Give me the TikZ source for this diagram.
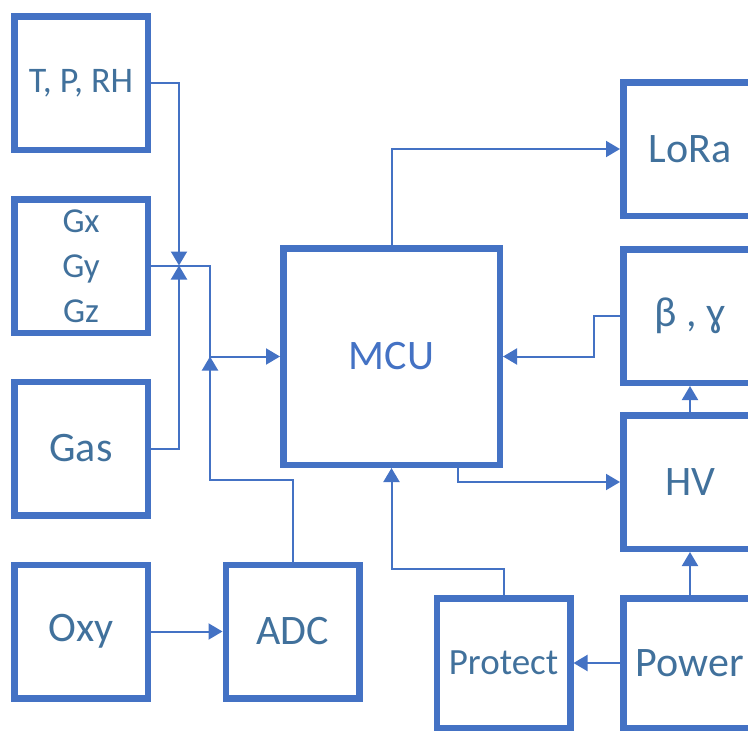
\documentclass[tikz,border=0pt]{standalone}
\usepackage{fontspec}
\setmainfont{Carlito}
\usetikzlibrary{arrows.meta}
\definecolor{boxblue}{HTML}{4472C4}
\definecolor{txtblue}{HTML}{41719C}
\tikzset{
  blk/.style={draw=boxblue, line width=6.5pt, minimum width=133.5pt, minimum height=133.5pt,
    inner sep=0pt, text=txtblue, font=\fontsize{42}{50}\selectfont, align=center},
  smalltxt/.style={font=\fontsize{35}{45}\selectfont},
  conn/.style={draw=boxblue, line width=2pt},
  arr/.style={conn, -{Triangle[length=14pt,width=16pt]}}
}
\begin{document}
\begin{tikzpicture}[x=1pt,y=-1pt]
\useasboundingbox (0,0) rectangle (748,731);
\clip (0,0) rectangle (748,731);
% blocks
\node[blk, font=\fontsize{36}{45}\selectfont] (tprh) at (81,83) {T, P, RH};
\node[blk, smalltxt] (gxyz) at (81,266) {Gx\\Gy\\Gz};
\node[blk] (gas) at (81,448.5) {Gas};
\node[blk] (oxy) at (81,631.5) {Oxy};
\node[blk] (adc) at (292.5,631.5) {ADC};
\node[blk, minimum width=216.5pt, minimum height=216.5pt, text=boxblue] (mcu) at (391.5,356.5) {MCU};
\node[blk] (lora) at (690,149) {LoRa};
\node[blk] (beta) at (690,316) {β , ɣ};
\node[blk] (hv) at (690,482) {HV};
\node[blk, minimum height=129.5pt] (power) at (690,663) {Power};
\node[blk, font=\fontsize{37}{45}\selectfont, minimum height=129.5pt] (protect) at (503.5,663) {Protect};
% junction coordinates
\coordinate (j1) at (179,265.5);
\coordinate (j2) at (210,356.5);
\coordinate (k1) at (210,480);
\coordinate (b1) at (594,356.5);
\coordinate (p1) at (391.5,569);
% connectors
\draw[arr] (tprh.east) -| (j1);
\draw[arr] (gas.east) -| (j1);
\draw[arr] (gxyz.east) -| (j2) -- (mcu.west);
\draw[arr] (adc.north) |- (k1) -- (j2);
\draw[arr] (oxy.east) -- (adc.west);
\draw[arr] (mcu.north) |- (lora.west);
\draw[arr] (beta.west) -| (b1) -- (mcu.east);
\draw[arr] ([xshift=66pt]mcu.south) |- (hv.west);
\draw[arr] (hv.north) -- (beta.south);
\draw[arr] (power.north) -- (hv.south);
\draw[arr] (power.west) -- (protect.east);
\draw[arr] (protect.north) |- (p1) -- (mcu.south);
\end{tikzpicture}
\end{document}
